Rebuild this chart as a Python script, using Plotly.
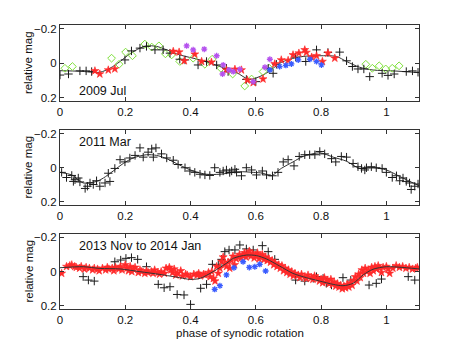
import plotly.graph_objects as go

# ---------------- Panel 1: 2009 Jul ----------------
p1_model_x = [0, 0.061, 0.122, 0.153, 0.184, 0.214, 0.245, 0.265, 0.296, 0.327, 0.367, 0.429, 0.49, 0.541, 0.58, 0.622, 0.653, 0.673, 0.704, 0.745, 0.796, 0.847, 0.878, 0.918, 0.959, 1.02, 1.1]
p1_model_y = [0.043, 0.046, 0.052, 0.029, -0.01, -0.054, -0.087, -0.1, -0.097, -0.077, -0.048, -0.019, 0.019, 0.054, 0.093, 0.068, 0.029, 0.0, -0.023, -0.039, -0.043, -0.039, -0.01, 0.023, 0.039, 0.044, 0.054]

p1_black_x = [0, 0.026, 0.061, 0.08, 0.097, 0.199, 0.219, 0.245, 0.265, 0.291, 0.316, 0.337, 0.367, 0.383, 0.423, 0.449, 0.48, 0.51, 0.515, 0.571, 0.6, 0.638, 0.653, 0.663, 0.722, 0.753, 0.786, 0.821, 0.857, 0.878, 0.896, 0.913, 0.931, 0.949, 0.987, 1.005, 1.024, 1.061, 1.08, 1.097]
p1_black_y = [0.068, 0.062, 0.044, 0.044, 0.048, -0.019, -0.071, -0.087, -0.097, -0.077, -0.077, -0.058, -0.023, -0.019, 0.01, -0.01, 0.01, 0.029, 0.048, 0.093, 0.106, 0.029, 0.058, 0.006, -0.035, -0.01, -0.077, -0.062, -0.064, -0.014, 0.019, 0.033, 0.033, 0.077, 0.058, 0.07, 0.062, 0.048, 0.044, 0.052]

p1_green_x = [0.015, 0.038, 0.158, 0.181, 0.201, 0.222, 0.26, 0.281, 0.303, 0.323, 0.342, 0.367, 0.408, 0.444, 0.466, 0.493, 0.529, 0.566, 0.587, 0.622, 0.641, 0.937, 0.957, 0.978, 0.998, 1.018, 1.039]
p1_green_y = [0.029, 0.019, -0.029, 0.006, -0.064, -0.043, -0.11, -0.093, -0.1, -0.054, -0.048, -0.01, -0.029, 0.006, -0.023, 0.029, 0.062, 0.131, 0.091, 0.048, 0.029, 0.006, 0.029, 0.015, 0.033, 0.029, 0.015]

p1_red_x = [0.107, 0.122, 0.148, 0.168, 0.347, 0.365, 0.381, 0.413, 0.434, 0.464, 0.51, 0.536, 0.556, 0.574, 0.592, 0.622, 0.658, 0.678, 0.699, 0.714, 0.732, 0.75, 0.755, 0.771, 0.786, 0.804, 0.821, 0.842]
p1_red_y = [0.044, 0.062, 0.039, 0.033, -0.068, -0.064, -0.014, -0.052, -0.01, -0.006, 0.039, 0.035, 0.039, 0.097, 0.112, 0.091, 0.004, -0.019, -0.016, -0.048, -0.058, -0.077, -0.062, -0.035, -0.043, -0.01, -0.058, -0.029]

p1_purple_x = [0.388, 0.408, 0.442, 0.48, 0.5, 0.498, 0.518, 0.531, 0.551, 0.592, 0.628, 0.643]
p1_purple_y = [-0.1, -0.077, -0.081, -0.043, 0.01, 0.062, 0.039, 0.048, 0.035, 0.106, 0.023, -0.023]

p1_blue_x = [0.643, 0.673, 0.692, 0.709, 0.73, 0.766, 0.786, 0.801]
p1_blue_y = [0.039, 0.019, 0.012, 0.004, -0.019, -0.023, -0.01, 0.01]

# ---------------- Panel 2: 2011 Mar ----------------
p2_model_x = [0, 0.036, 0.071, 0.112, 0.133, 0.163, 0.194, 0.224, 0.265, 0.296, 0.327, 0.367, 0.408, 0.449, 0.49, 0.531, 0.551, 0.592, 0.622, 0.647, 0.678, 0.714, 0.745, 0.796, 0.837, 0.878, 0.918, 0.959, 1.0, 1.041, 1.082, 1.1]
p2_model_y = [0.027, 0.042, 0.089, 0.08, 0.06, 0.019, -0.025, -0.057, -0.076, -0.072, -0.053, -0.015, 0.019, 0.038, 0.038, 0.027, 0.023, 0.027, 0.032, 0.047, 0.004, -0.034, -0.066, -0.087, -0.062, -0.038, 0.004, 0.0, 0.013, 0.051, 0.089, 0.104]

p2_black_x = [0.005, 0.02, 0.036, 0.046, 0.056, 0.041, 0.061, 0.077, 0.084, 0.092, 0.102, 0.112, 0.122, 0.138, 0.153, 0.148, 0.168, 0.184, 0.199, 0.214, 0.23, 0.245, 0.255, 0.27, 0.281, 0.294, 0.286, 0.311, 0.327, 0.347, 0.362, 0.383, 0.398, 0.413, 0.429, 0.444, 0.459, 0.474, 0.49, 0.5, 0.51, 0.52, 0.526, 0.536, 0.541, 0.556, 0.571, 0.587, 0.602, 0.62, 0.633, 0.651, 0.668, 0.684, 0.699, 0.717, 0.733, 0.75, 0.765, 0.781, 0.796, 0.811, 0.832, 0.845, 0.862, 0.878, 0.898, 0.913, 0.924, 0.934, 0.939, 0.954, 0.969, 0.987, 1.0, 1.018, 1.031, 1.041, 1.051, 1.061, 1.071, 1.076, 1.087, 1.097]
p2_black_y = [0.027, 0.057, 0.045, 0.07, 0.06, 0.08, 0.083, 0.121, 0.108, 0.089, 0.098, 0.076, 0.108, 0.089, 0.08, 0.032, 0.004, -0.047, -0.034, -0.057, -0.072, -0.116, -0.062, -0.091, -0.11, -0.116, -0.062, -0.081, -0.057, -0.044, -0.019, 0.0, 0.019, 0.027, 0.038, 0.042, 0.045, 0.0, 0.027, 0.019, 0.013, 0.028, 0.019, 0.009, 0.027, 0.047, 0.0, 0.013, 0.042, 0.019, 0.042, 0.047, 0.027, -0.034, -0.047, -0.011, -0.066, -0.076, -0.076, -0.076, -0.095, -0.081, -0.053, -0.034, -0.066, -0.062, -0.025, -0.006, 0.004, 0.013, 0.0, -0.006, 0.0, 0.004, 0.027, 0.057, 0.047, 0.076, 0.06, 0.08, 0.089, 0.127, 0.108, 0.095]

# ---------------- Panel 3: 2013 Nov to 2014 Jan ----------------
p3_model_x = [0, 0.071, 0.122, 0.184, 0.245, 0.306, 0.367, 0.398, 0.429, 0.469, 0.51, 0.531, 0.571, 0.602, 0.633, 0.673, 0.714, 0.755, 0.796, 0.837, 0.867, 0.898, 0.929, 0.959, 1.0, 1.061, 1.1]
p3_model_y = [-0.023, -0.029, -0.019, -0.016, 0.0, 0.016, 0.035, 0.045, 0.039, 0.0, -0.049, -0.078, -0.097, -0.094, -0.074, -0.033, 0.01, 0.035, 0.055, 0.074, 0.082, 0.068, 0.019, -0.014, -0.029, -0.023, -0.016]

p3_black_x = [0.071, 0.087, 0.105, 0.168, 0.186, 0.202, 0.219, 0.238, 0.265, 0.301, 0.319, 0.337, 0.359, 0.38, 0.4, 0.431, 0.449, 0.467, 0.485, 0.495, 0.505, 0.518, 0.536, 0.551, 0.571, 0.592, 0.62, 0.638, 0.658, 0.699, 0.722, 0.75, 0.776, 0.786, 0.806, 0.816, 0.832, 0.867, 0.891, 0.947, 0.969, 0.985, 1.067, 1.087]
p3_black_y = [0.029, 0.049, 0.055, -0.058, -0.068, -0.078, -0.082, -0.072, -0.029, 0.074, 0.094, 0.088, 0.133, 0.136, 0.191, 0.097, 0.074, -0.043, -0.039, -0.072, -0.117, -0.127, -0.127, -0.156, -0.133, -0.127, -0.152, -0.117, -0.072, 0.0, 0.049, 0.055, 0.039, 0.029, 0.039, 0.068, 0.078, 0.035, 0.049, 0.078, 0.068, 0.043, 0.029, 0.049]

p3_blue_x = [0.474, 0.49, 0.51, 0.533, 0.561, 0.58, 0.597, 0.612, 0.63]
p3_blue_y = [0.103, 0.082, 0.019, -0.023, -0.058, -0.025, -0.029, -0.043, -0.004]

p3_red_x = [0.005, 0.02, 0.03, 0.036, 0.045, 0.05, 0.06, 0.065, 0.075, 0.08, 0.09, 0.1, 0.105, 0.115, 0.12, 0.13, 0.14, 0.145, 0.15, 0.16, 0.165, 0.17, 0.18, 0.185, 0.19, 0.2, 0.205, 0.21, 0.215, 0.22, 0.225, 0.23, 0.24, 0.245, 0.25, 0.26, 0.265, 0.27, 0.28, 0.285, 0.29, 0.3, 0.305, 0.31, 0.32, 0.325, 0.335, 0.34, 0.345, 0.35, 0.355, 0.36, 0.37, 0.375, 0.385, 0.39, 0.4, 0.41, 0.42, 0.425, 0.43, 0.44, 0.445, 0.455, 0.46, 0.465, 0.47, 0.475, 0.48, 0.485, 0.49, 0.495, 0.5, 0.505, 0.51, 0.515, 0.52, 0.525, 0.53, 0.535, 0.54, 0.545, 0.55, 0.555, 0.56, 0.565, 0.57, 0.575, 0.58, 0.585, 0.59, 0.595, 0.6, 0.605, 0.61, 0.615, 0.62, 0.625, 0.63, 0.635, 0.64, 0.645, 0.65, 0.655, 0.66, 0.665, 0.67, 0.675, 0.68, 0.685, 0.69, 0.695, 0.7, 0.705, 0.71, 0.715, 0.72, 0.73, 0.735, 0.74, 0.75, 0.755, 0.76, 0.77, 0.775, 0.78, 0.79, 0.795, 0.8, 0.805, 0.81, 0.815, 0.82, 0.825, 0.83, 0.835, 0.84, 0.845, 0.85, 0.855, 0.86, 0.865, 0.87, 0.875, 0.88, 0.885, 0.89, 0.895, 0.9, 0.905, 0.91, 0.915, 0.92, 0.925, 0.93, 0.935, 0.94, 0.945, 0.95, 0.955, 0.96, 0.965, 0.97, 0.975, 0.98, 0.985, 0.99, 1.0, 1.005, 1.01, 1.02, 1.03, 1.04, 1.05, 1.06, 1.07, 1.08, 1.09, 1.095]
p3_red_y = [0.01, -0.03, -0.035, -0.04, -0.03, -0.025, -0.02, -0.03, -0.015, -0.025, -0.02, -0.01, -0.02, -0.015, -0.005, -0.02, -0.01, -0.025, -0.015, -0.02, -0.005, -0.025, -0.015, -0.03, -0.01, -0.04, -0.02, -0.005, -0.03, 0.0, -0.015, -0.025, 0.005, -0.01, 0.0, 0.01, -0.005, 0.005, 0.0, 0.01, -0.01, 0.005, 0.015, 0.0, 0.01, -0.02, -0.025, -0.01, 0.005, -0.015, 0.02, 0.01, -0.005, 0.025, 0.015, 0.02, 0.03, 0.015, 0.02, 0.01, 0.025, 0.015, 0.02, 0.005, 0.03, 0.0, 0.04, 0.055, -0.03, 0.01, -0.02, -0.06, -0.085, -0.045, -0.03, -0.055, -0.02, -0.065, -0.09, -0.04, -0.075, -0.085, -0.1, -0.08, -0.095, -0.11, -0.085, -0.1, -0.12, -0.09, -0.105, -0.08, -0.095, -0.11, -0.075, -0.09, -0.1, -0.07, -0.085, -0.065, -0.075, -0.055, -0.065, -0.04, -0.05, -0.03, -0.04, -0.02, -0.035, -0.005, -0.02, 0.005, -0.01, 0.015, 0.0, 0.025, 0.01, 0.02, 0.035, 0.015, 0.03, 0.04, 0.02, 0.035, 0.045, 0.025, 0.04, 0.055, 0.045, 0.065, 0.035, 0.06, 0.05, 0.07, 0.045, 0.075, 0.06, 0.085, 0.07, 0.09, 0.08, 0.1, 0.085, 0.095, 0.075, 0.09, 0.065, 0.08, 0.05, 0.03, 0.055, 0.015, 0.035, -0.01, 0.01, -0.02, 0.0, -0.01, 0.01, -0.025, -0.005, -0.03, -0.015, -0.035, -0.02, 0.005, -0.025, -0.03, -0.015, 0.01, -0.02, -0.035, -0.025, -0.03, -0.02, -0.025, -0.015, -0.02, -0.025]

x_ticks = [0, 0.2, 0.4, 0.6, 0.8, 1.0]
x_ticktext = ["0", "0.2", "0.4", "0.6", "0.8", "1"]
y_ticks = [-0.2, 0, 0.2]
y_ticktext = ["\u22120.2", "0", "0.2"]
panel_labels = ["2009 Jul", "2011 Mar", "2013 Nov to 2014 Jan"]

FONT = "Liberation Sans, Arial, sans-serif"
BLACK = "#1a1a1a"
RED = "#ff2a2a"
GREEN = "#7ee03a"
BLUE = "#3a5cff"
PURPLE = "#b552ee"

fig = go.Figure()

def add(xs, ys, axis, symbol, color, size, width=1.0):
    fig.add_trace(go.Scatter(x=xs, y=ys, mode="markers", xaxis="x" + axis, yaxis="y" + axis,
                             marker=dict(symbol=symbol, size=size, color=color,
                                         line=dict(color=color, width=width)),
                             showlegend=False, hoverinfo="skip"))

def model(xs, ys, axis):
    fig.add_trace(go.Scatter(x=xs, y=ys, mode="lines", xaxis="x" + axis, yaxis="y" + axis,
                             line=dict(color="#333333", width=1, shape="spline", smoothing=0.8),
                             showlegend=False, hoverinfo="skip"))

# panel 1
model(p1_model_x, p1_model_y, "")
add(p1_green_x, p1_green_y, "", "diamond-open", GREEN, 6)
add(p1_black_x, p1_black_y, "", "cross-thin", BLACK, 6)
add(p1_red_x, p1_red_y, "", "star", RED, 6, 0.6)
add(p1_purple_x, p1_purple_y, "", "asterisk-open", PURPLE, 5, 1.3)
add(p1_blue_x, p1_blue_y, "", "asterisk-open", BLUE, 5, 1.3)
# panel 2
model(p2_model_x, p2_model_y, "2")
add(p2_black_x, p2_black_y, "2", "cross-thin", BLACK, 6)
# panel 3
add(p3_black_x, p3_black_y, "3", "cross-thin", BLACK, 6)
add(p3_red_x, p3_red_y, "3", "star", RED, 6, 0.6)
add(p3_blue_x, p3_blue_y, "3", "asterisk-open", BLUE, 5, 1.3)
model(p3_model_x, p3_model_y, "3")

axis_common = dict(showline=True, linecolor="#333333", linewidth=1, mirror="ticks",
                   ticks="inside", ticklen=4, tickcolor="#333333", showgrid=False,
                   zeroline=False, automargin=False,
                   tickfont=dict(family=FONT, size=11.5, color="#111111"))

domains = [[0.732, 1.0], [0.366, 0.630], [0.0, 0.264]]
names = ["", "2", "3"]
# page body has an 8px default margin, so the figure is sized to fit inside it
layout = dict(width=455, height=340, plot_bgcolor="white", paper_bgcolor="white",
              margin=dict(l=52, r=44, t=17, b=39, autoexpand=False), showlegend=False,
              font=dict(family=FONT, size=12, color="#111111"))
for i, n in enumerate(names):
    xa = dict(axis_common, range=[0, 1.1], tickvals=x_ticks, ticktext=x_ticktext,
              anchor="y" + n, domain=[0, 1])
    ya = dict(axis_common, range=[0.218, -0.22], tickvals=y_ticks, ticktext=y_ticktext,
              anchor="x" + n, domain=domains[i])
    layout["xaxis" + n] = xa
    layout["yaxis" + n] = ya

fig.update_layout(**layout)

label_y = [0.157, -0.152, -0.152]
for i, n in enumerate(names):
    fig.add_annotation(x=0.052, y=label_y[i], xref="x" + n, yref="y" + n, text=panel_labels[i],
                       showarrow=False, xanchor="left", yanchor="middle",
                       font=dict(family=FONT, size=12.5, color="#111111"))
    fig.add_annotation(x=-0.089, y=sum(domains[i]) / 2, xref="paper", yref="paper",
                       text="relative mag", textangle=-90, showarrow=False,
                       xanchor="center", yanchor="middle",
                       font=dict(family=FONT, size=11.5, color="#111111"))

fig.add_annotation(x=(239.5 - 60) / 359, y=(309 - 333) / 284, xref="paper", yref="paper",
                   text="phase of synodic rotation", showarrow=False,
                   xanchor="center", yanchor="middle",
                   font=dict(family=FONT, size=11.5, color="#111111"))

fig.write_html("out.html")
